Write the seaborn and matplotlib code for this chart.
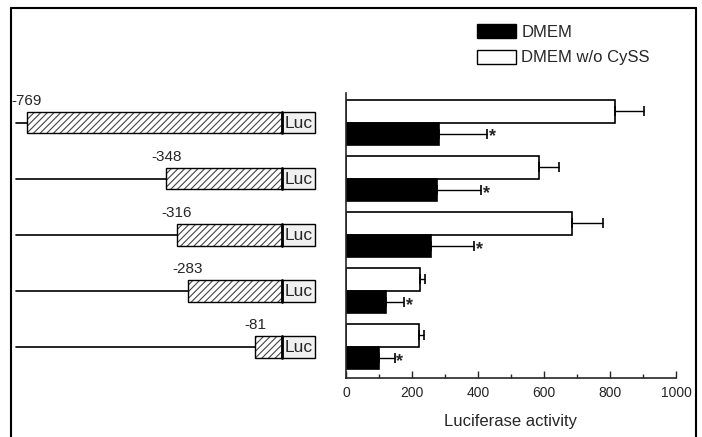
import numpy as np
import pandas as pd
import matplotlib
matplotlib.use("Agg")
import matplotlib.pyplot as plt
from matplotlib.patches import Rectangle, Patch
from matplotlib.lines import Line2D
import seaborn as sns

# promoter constructs (start position, bp)
constructs = [-769, -348, -316, -283, -81]
construct_labels = ["-769", "-348", "-316", "-283", "-81"]

# luciferase activity
dmem = [282, 276, 258, 121, 100]
dmem_err = [145, 133, 130, 55, 48]
wo_cyss = [815, 585, 685, 224, 221]
wo_cyss_err = [88, 60, 93, 15, 15]
xticks = [0, 200, 400, 600, 800, 1000]

sns.set_style("ticks")
plt.rcParams["font.family"] = ["Liberation Sans", "DejaVu Sans"]
plt.rcParams["hatch.linewidth"] = 0.8

df = pd.DataFrame({
    "construct": construct_labels * 2,
    "condition": ["DMEM w/o CySS"] * 5 + ["DMEM"] * 5,
    "value": wo_cyss + dmem,
})

fig = plt.figure(figsize=(7.02, 4.37), dpi=100)
W, H = 702, 437
bottom = (H - 378) / H
height = (378 - 93) / H
ylim = (4.56, -0.527)

# 右侧柱状图
ax = fig.add_axes([346 / W, bottom, 330 / W, height])
sns.barplot(data=df, x="value", y="construct", hue="condition",
            order=construct_labels, hue_order=["DMEM w/o CySS", "DMEM"],
            palette={"DMEM w/o CySS": "white", "DMEM": "black"},
            orient="h", errorbar=None, width=0.8, edgecolor="black",
            linewidth=1.2, legend=False, ax=ax)

for container, errs, star in zip(ax.containers, [wo_cyss_err, dmem_err], [False, True]):
    for bar, e in zip(container, errs):
        y = bar.get_y() + bar.get_height() / 2
        x = bar.get_width()
        ax.errorbar(x, y, xerr=[[0], [e]], fmt="none", ecolor="black",
                    elinewidth=1, capsize=3.5, capthick=1.2)
        if star:
            ax.text(x + e + 5, y + 0.06, "*", ha="left", va="center",
                    fontsize=13, fontweight="bold")

ax.set_xlim(0, 1000)
ax.set_ylim(*ylim)
ax.set_xticks(xticks)
ax.set_xticks(np.arange(100, 1000, 200), minor=True)
ax.tick_params(axis="x", which="major", direction="in", length=5, width=1, labelsize=10, pad=6)
ax.tick_params(axis="x", which="minor", direction="in", length=3, width=1)
ax.set_yticks([])
ax.set_ylabel("")
ax.set_xlabel("Luciferase activity", fontsize=12, labelpad=10)
sns.despine(ax=ax)
for s in ["left", "bottom"]:
    ax.spines[s].set_linewidth(1.2)

# 左侧启动子示意图
px_per_bp = 0.332
axl = fig.add_axes([0, bottom, 340 / W, height])
axl.set_xlim(-282 / px_per_bp, (340 - 282) / px_per_bp)
axl.set_ylim(*ylim)
axl.axis("off")
bh = 0.39
luc_w = 33 / px_per_bp
for i, (start, lab) in enumerate(zip(constructs, construct_labels)):
    axl.plot([-800, start], [i, i], color="black", lw=1.2)
    axl.add_patch(Rectangle((start, i - bh / 2), -start, bh, facecolor="white",
                            edgecolor="#444444", hatch="/////", lw=0))
    axl.add_patch(Rectangle((start, i - bh / 2), -start, bh, fill=False,
                            edgecolor="black", lw=1))
    axl.add_patch(Rectangle((0, i - bh / 2), luc_w, bh, facecolor="#f0f0f0",
                            edgecolor="black", lw=1))
    axl.plot([0, 0], [i - bh / 2, i + bh / 2], color="black", lw=2)
    axl.text(luc_w / 2, i + 0.01, "Luc", ha="center", va="center", fontsize=12.5)
    axl.text(start, i - bh / 2 - 0.06, lab, ha="center", va="bottom", fontsize=11)

# 图例
fig.legend(handles=[Patch(facecolor="black", edgecolor="black"),
                    Patch(facecolor="white", edgecolor="black")],
           labels=["DMEM", "DMEM w/o CySS"], loc="upper left",
           bbox_to_anchor=(477 / W, 1 - 24 / H), frameon=False, fontsize=12,
           handlelength=2.35, handleheight=0.9, handletextpad=0.3,
           labelspacing=0.6, borderpad=0, borderaxespad=0)

# 外框
lx, rx, ty = 11 / W, 696 / W, 1 - 8 / H
for xs, ys in [([lx, lx], [0, ty]), ([lx, rx], [ty, ty]), ([rx, rx], [ty, 0])]:
    fig.add_artist(Line2D(xs, ys, transform=fig.transFigure, color="black", lw=1.5))

fig.savefig("out.png", dpi=100)
